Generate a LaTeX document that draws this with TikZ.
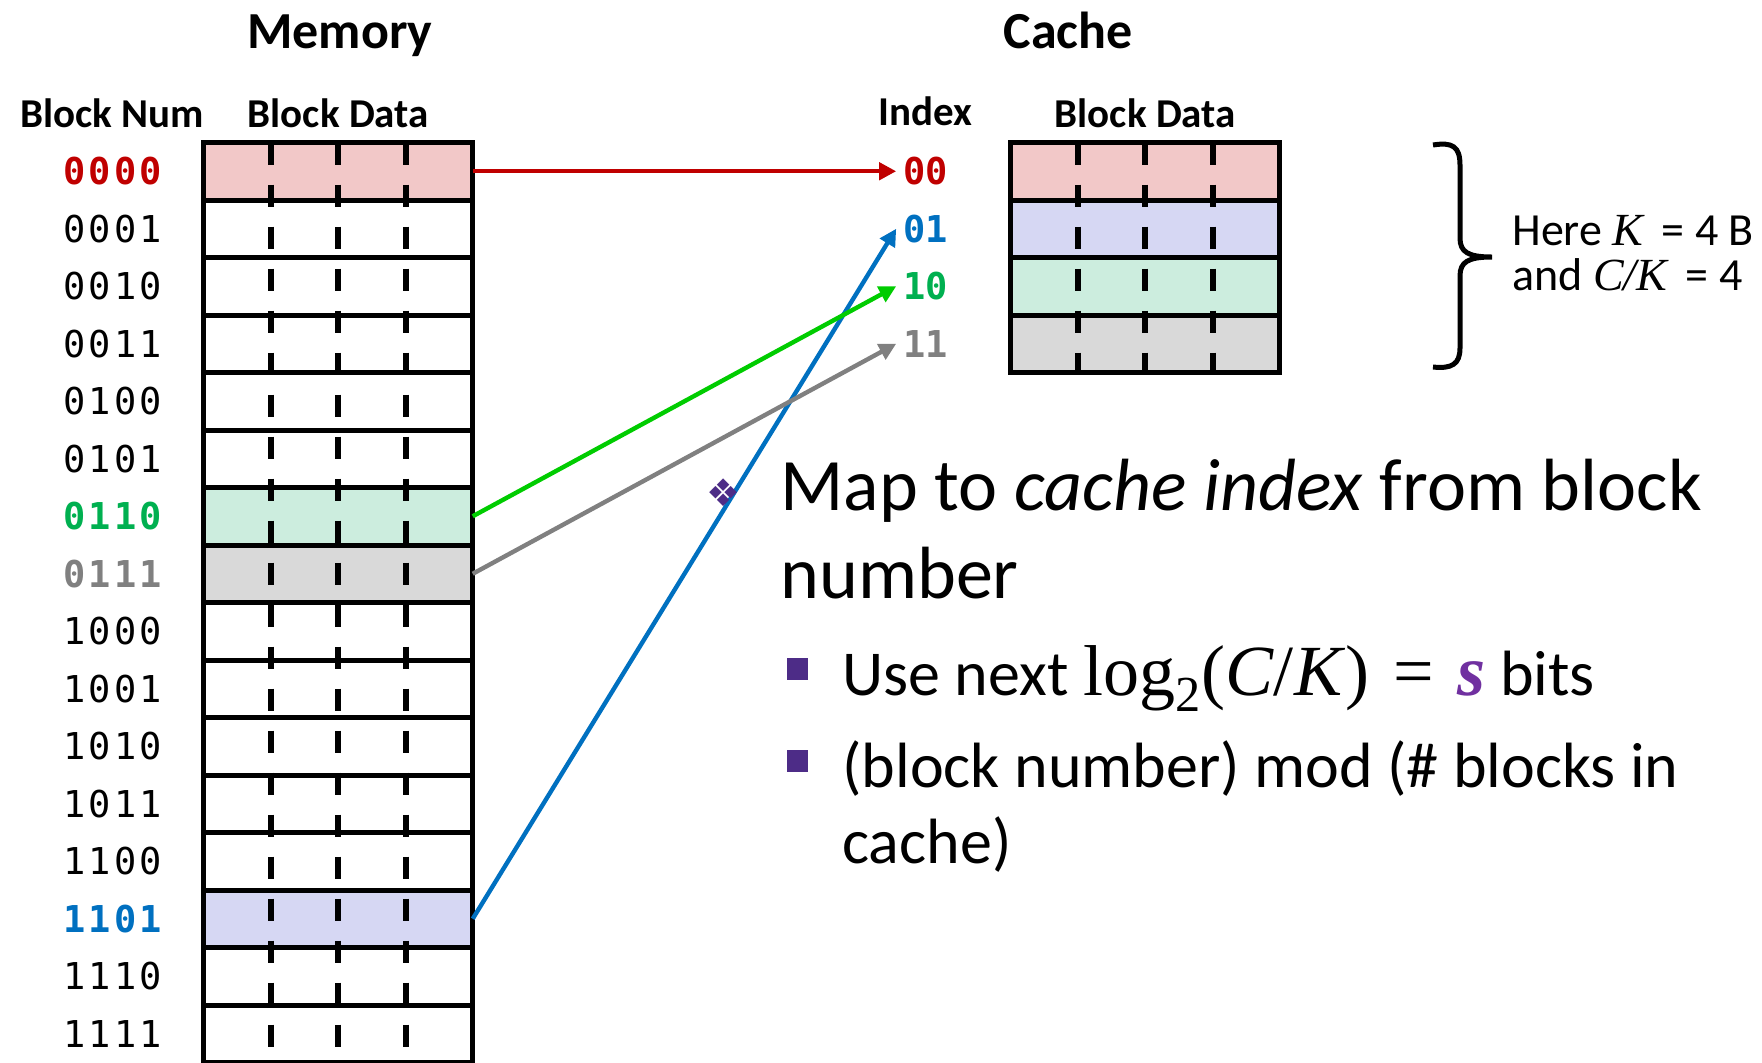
\documentclass[tikz,border=0pt]{standalone}
\usepackage{fontspec}
\setmainfont{Carlito}
\newfontfamily\blocknumfont[LetterSpace=8]{DejaVu Sans Mono}
\newfontfamily\indexfont{DejaVu Sans Mono}
\newfontfamily\symbolfont{DejaVu Sans}
\newfontfamily\formulafont{Liberation Serif}
\usepackage{tikz}
\usetikzlibrary{arrows.meta, positioning, calc}
\definecolor{fillRed}{RGB}{242,200,200}
\definecolor{fillBlue}{RGB}{214,215,243}
\definecolor{fillGreen}{RGB}{204,237,222}
\definecolor{fillGray}{RGB}{217,217,217}
\definecolor{colorRed}{RGB}{192,0,0}
\definecolor{colorBlue}{RGB}{0,112,192}
\definecolor{colorGreen}{RGB}{0,176,80}
\definecolor{colorGreenArrow}{RGB}{0,204,0}
\definecolor{colorGray}{RGB}{128,128,128}
\definecolor{colorBullet}{RGB}{77,44,135}
\definecolor{colorS}{RGB}{112,48,160}
\tikzset{
  memrow/.style={draw, line width=2.5pt, minimum width=134.5pt, minimum height=28.75pt, inner sep=0pt, outer sep=0pt},
  blocknum/.style={font=\blocknumfont\fontsize{18.5}{20}\selectfont, inner sep=0pt, outer sep=0pt},
  boldnum/.style={blocknum, font=\blocknumfont\bfseries\fontsize{18.5}{20}\selectfont},
  cacheidx/.style={font=\indexfont\bfseries\fontsize{18.5}{20}\selectfont, inner sep=0pt, outer sep=3.5pt},
  colhead/.style={font=\bfseries\fontsize{20.5}{24}\selectfont, inner sep=0pt, outer sep=0pt},
  headtitle/.style={font=\bfseries\fontsize{26}{30}\selectfont, anchor=base, inner sep=0pt},
  datadash/.style={line width=3pt, dash pattern=on 11pt off 10pt},
  maparrow/.style={->, line width=2.2pt},
  bigtext/.style={font=\fontsize{37}{44}\selectfont, anchor=base west, inner sep=0pt},
  subtext/.style={font=\fontsize{32}{38}\selectfont, anchor=base west, inner sep=0pt},
  sidetext/.style={font=\fontsize{23}{26}\selectfont, anchor=base west, inner sep=0pt},
  subbullet/.style={fill=colorBullet, minimum width=10.5pt, minimum height=11pt, inner sep=0pt}
}

\begin{document}
\begin{tikzpicture}[x=0.5pt, y=-0.5pt, >={Triangle[length=8.5pt, width=8.5pt]}]
\useasboundingbox (0,0) rectangle (1762,1062);
\clip (0,0) rectangle (1762,1062);
% memory blocks
\node[memrow, fill=fillRed] (m0) at (338.25,171.25) {};
\node[memrow, below=0pt of m0] (m1) {};
\node[memrow, below=0pt of m1] (m2) {};
\node[memrow, below=0pt of m2] (m3) {};
\node[memrow, below=0pt of m3] (m4) {};
\node[memrow, below=0pt of m4] (m5) {};
\node[memrow, below=0pt of m5, fill=fillGreen] (m6) {};
\node[memrow, below=0pt of m6, fill=fillGray] (m7) {};
\node[memrow, below=0pt of m7] (m8) {};
\node[memrow, below=0pt of m8] (m9) {};
\node[memrow, below=0pt of m9] (m10) {};
\node[memrow, below=0pt of m10] (m11) {};
\node[memrow, below=0pt of m11] (m12) {};
\node[memrow, below=0pt of m12, fill=fillBlue] (m13) {};
\node[memrow, below=0pt of m13] (m14) {};
\node[memrow, below=0pt of m14] (m15) {};
\foreach \f in {0.25,0.5,0.75}
  \draw[datadash] ($(m0.north west)!\f!(m0.north east)$) -- ($(m15.south west)!\f!(m15.south east)$);
% block numbers
\node[boldnum, text=colorRed, left=21pt of m0] (n0) {0000};
\node[blocknum, left=21pt of m1] (n1) {0001};
\node[blocknum, left=21pt of m2] (n2) {0010};
\node[blocknum, left=21pt of m3] (n3) {0011};
\node[blocknum, left=21pt of m4] (n4) {0100};
\node[blocknum, left=21pt of m5] (n5) {0101};
\node[boldnum, text=colorGreen, left=21pt of m6] (n6) {0110};
\node[boldnum, text=colorGray, left=21pt of m7] (n7) {0111};
\node[blocknum, left=21pt of m8] (n8) {1000};
\node[blocknum, left=21pt of m9] (n9) {1001};
\node[blocknum, left=21pt of m10] (n10) {1010};
\node[blocknum, left=21pt of m11] (n11) {1011};
\node[blocknum, left=21pt of m12] (n12) {1100};
\node[boldnum, text=colorBlue, left=21pt of m13] (n13) {1101};
\node[blocknum, left=21pt of m14] (n14) {1110};
\node[blocknum, left=21pt of m15] (n15) {1111};
% cache lines
\node[memrow, fill=fillRed] (c0) at (1145.25,171.25) {};
\node[memrow, below=0pt of c0, fill=fillBlue] (c1) {};
\node[memrow, below=0pt of c1, fill=fillGreen] (c2) {};
\node[memrow, below=0pt of c2, fill=fillGray] (c3) {};
\foreach \f in {0.25,0.5,0.75}
  \draw[datadash] ($(c0.north west)!\f!(c0.north east)$) -- ($(c3.south west)!\f!(c3.south east)$);
\node[cacheidx, text=colorRed, left=28pt of c0] (i00) {00};
\node[cacheidx, text=colorBlue, left=28pt of c1] (i01) {01};
\node[cacheidx, text=colorGreen, left=28pt of c2] (i10) {10};
\node[cacheidx, text=colorGray, left=28pt of c3] (i11) {11};
% headings
\node[headtitle] (memtitle) at (340,48) {Memory};
\node[headtitle] (cachetitle) at (1068,48) {Cache};
\node[colhead, above=7.5pt of m0] (memdata) {Block Data};
\node[colhead, above left=7.5pt and 0pt of m0.north west] (memnum) {Block Num};
\node[colhead, above=7.5pt of c0] (cachedata) {Block Data};
\node[colhead, above=12pt of i00] (idxhead) {Index};
% mapping
\draw[maparrow, colorRed] (m0.east) -- (i00.west);
\draw[maparrow, colorBlue] (m13.east) -- (i01.west);
\draw[maparrow, colorGreenArrow] (m6.east) -- (i10.west);
\draw[maparrow, colorGray] (m7.east) -- (i11.west);
% brace and note
\draw[line width=2.5pt] (1433,145) .. controls (1452,142) and (1460,146) .. (1460,165) -- (1460,238) .. controls (1460,252) and (1468,257) .. (1492,257) .. controls (1468,257) and (1460,262) .. (1460,276) -- (1460,348) .. controls (1460,364) and (1452,369) .. (1433,367);
\node[sidetext] (here1) at (1512,245) {Here {\formulafont\itshape K}\hspace{4pt} = 4 B};
\node[sidetext] (here2) at (1512,290) {and {\formulafont\itshape C/K}\hspace{4pt} = 4};
% bullets
\node[text=colorBullet, font=\symbolfont\fontsize{19}{21}\selectfont, inner sep=0pt] (bul0) at (724,493) {❖};
\node[bigtext] (map1) at (780,510) {Map to \textit{cache index} from block};
\node[bigtext] (map2) at (780,598) {number};
\node[subbullet] (bul1) at (797.5,669) {};
\node[subtext] (use) at (842,695) {Use next {\formulafont\fontsize{36}{40}\selectfont log\textsubscript{2}(\textit{C}/\textit{K})\hspace{12pt}=\hspace{12pt}\textcolor{colorS}{\textbf{\textit{s}}}} bits};
\node[subbullet] (bul2) at (797.5,761) {};
\node[subtext] (mod1) at (842,787) {(block number) mod (\# blocks in};
\node[subtext] (mod2) at (842,863) {cache)};
\end{tikzpicture}
\end{document}
